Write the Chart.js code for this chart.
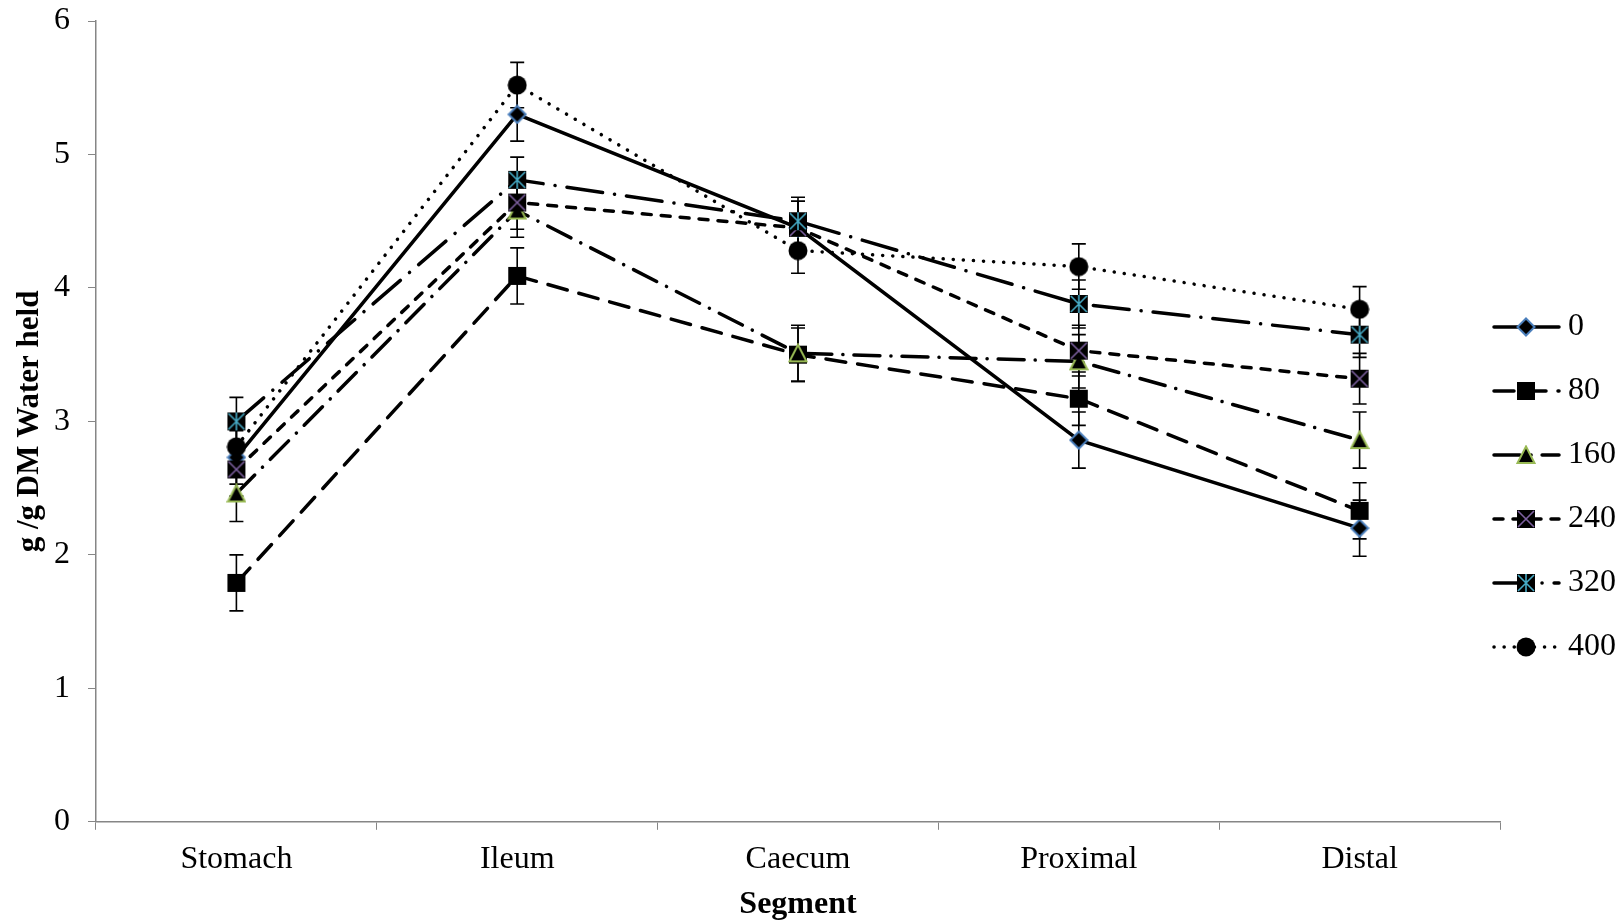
<!DOCTYPE html>
<html>
<head>
<meta charset="utf-8">
<script src="https://cdn.jsdelivr.net/npm/chart.js@4.4.0/dist/chart.umd.min.js"></script>
<style>
  html, body { margin: 0; padding: 0; background: #fff; }
  #wrap { width: 1622px; height: 924px; }
</style>
</head>
<body>
<div id="wrap"><canvas id="myChart" width="1622" height="924"></canvas></div>
<script>
const segments = ['Stomach', 'Ileum', 'Caecum', 'Proximal', 'Distal'];
const seriesNames = ['0', '80', '160', '240', '320', '400'];

const water0 = [2.73, 5.30, 4.45, 2.86, 2.20];
const water80 = [1.79, 4.09, 3.50, 3.17, 2.33];
const water160 = [2.46, 4.58, 3.51, 3.45, 2.86];
const water240 = [2.64, 4.64, 4.45, 3.53, 3.32];
const water320 = [3.00, 4.81, 4.50, 3.88, 3.65];
const water400 = [2.81, 5.52, 4.28, 4.16, 3.84];

const err0 = [0.20, 0.20, 0.20, 0.21, 0.21];
const err80 = [0.21, 0.21, 0.20, 0.20, 0.21];
const err160 = [0.21, 0.20, 0.21, 0.20, 0.21];
const err240 = [0.20, 0.20, 0.20, 0.19, 0.19];
const err320 = [0.18, 0.17, 0.18, 0.18, 0.17];
const err400 = [0.17, 0.17, 0.17, 0.17, 0.17];

const yTicks = [0, 1, 2, 3, 4, 5, 6];

// marker images
function marker(kind) {
    const s = 20;
    const c = document.createElement('canvas');
    c.width = s; c.height = s;
    const g = c.getContext('2d');
    g.fillStyle = '#000';
    if (kind === 'diamond') {
        g.beginPath();
        g.moveTo(s / 2, 1.5); g.lineTo(s - 1.5, s / 2); g.lineTo(s / 2, s - 1.5); g.lineTo(1.5, s / 2);
        g.closePath();
        g.fill();
        g.strokeStyle = '#4a7ebb'; g.lineWidth = 2; g.stroke();
    } else if (kind === 'square') {
        g.fillRect(1, 1, s - 2, s - 2);
    } else if (kind === 'triangle') {
        g.beginPath();
        g.moveTo(s / 2, 1.5); g.lineTo(s - 1.5, s - 2); g.lineTo(1.5, s - 2);
        g.closePath();
        g.fill();
        g.strokeStyle = '#98b954'; g.lineWidth = 2; g.stroke();
    } else if (kind === 'xsquare' || kind === 'star') {
        g.fillRect(1, 1, s - 2, s - 2);
        g.strokeStyle = kind === 'xsquare' ? '#7d60a0' : '#46aac5';
        g.lineWidth = 1.6;
        g.beginPath();
        g.moveTo(2, 2); g.lineTo(s - 2, s - 2);
        g.moveTo(s - 2, 2); g.lineTo(2, s - 2);
        if (kind === 'star') { g.moveTo(s / 2, 1); g.lineTo(s / 2, s - 1); }
        g.stroke();
    } else if (kind === 'circle') {
        g.beginPath();
        g.arc(s / 2, s / 2, s / 2 - 0.5, 0, Math.PI * 2);
        g.fill();
    }
    return c;
}

const values = [water0, water80, water160, water240, water320, water400];
const errors = [err0, err80, err160, err240, err320, err400];
const markers = ['diamond', 'square', 'triangle', 'xsquare', 'star', 'circle'].map(marker);
const dashes = [[], [20, 12], [26, 11, 0.1, 11], [9, 10], [36, 12, 0.1, 12], [0.1, 10]];

const datasets = seriesNames.map((name, i) => ({
    label: name,
    data: values[i],
    errors: errors[i],
    borderColor: '#000',
    backgroundColor: '#000',
    borderWidth: 3.5,
    borderDash: dashes[i],
    borderCapStyle: 'round',
    tension: 0,
    pointStyle: markers[i],
    pointRadius: 10,
    order: 6 - i
}));

// Excel-like error bars
const errorBars = {
    id: 'errorBars',
    beforeDatasetsDraw(chart) {
        const ctx = chart.ctx;
        const y = chart.scales.y;
        ctx.save();
        ctx.strokeStyle = '#000';
        ctx.lineWidth = 1.6;
        chart.data.datasets.forEach((ds, i) => {
            const meta = chart.getDatasetMeta(i);
            meta.data.forEach((pt, j) => {
                const v = ds.data[j], e = ds.errors[j];
                const top = y.getPixelForValue(v + e);
                const bot = y.getPixelForValue(v - e);
                ctx.beginPath();
                ctx.moveTo(pt.x, top); ctx.lineTo(pt.x, bot);
                ctx.moveTo(pt.x - 7, top); ctx.lineTo(pt.x + 7, top);
                ctx.moveTo(pt.x - 7, bot); ctx.lineTo(pt.x + 7, bot);
                ctx.stroke();
            });
        });
        ctx.restore();
    }
};

// legend with line + marker samples
const sideLegend = {
    id: 'sideLegend',
    afterDraw(chart) {
        const ctx = chart.ctx;
        ctx.save();
        chart.data.datasets.forEach((ds, i) => {
            const cy = 327 + i * 64;
            ctx.strokeStyle = '#000';
            ctx.lineWidth = 3.5;
            ctx.lineCap = 'round';
            ctx.setLineDash(ds.borderDash);
            ctx.beginPath();
            ctx.moveTo(1494, cy); ctx.lineTo(1559, cy);
            ctx.stroke();
            ctx.setLineDash([]);
            ctx.drawImage(ds.pointStyle, 1526 - 10, cy - 10);
            ctx.fillStyle = '#000';
            ctx.font = '32px "Liberation Serif"';
            ctx.textBaseline = 'middle';
            ctx.fillText(ds.label, 1568, cy);
        });
        ctx.restore();
    }
};

new Chart(document.getElementById('myChart'), {
    type: 'line',
    data: { labels: segments, datasets: datasets },
    plugins: [errorBars, sideLegend],
    options: {
        responsive: false,
        animation: false,
        layout: { padding: { top: 21, right: 122, left: 0, bottom: 5 } },
        plugins: { legend: { display: false }, tooltip: { enabled: false } },
        scales: {
            x: {
                offset: true,
                grid: { offset: true, drawOnChartArea: false, color: '#868686', tickLength: 8, tickColor: '#868686' },
                border: { color: '#868686', width: 1.5 },
                ticks: { color: '#000', padding: 11, font: { family: 'Liberation Serif', size: 32 } },
                title: {
                    display: true, text: 'Segment', color: '#000', padding: { top: 0, bottom: 0 },
                    font: { family: 'Liberation Serif', size: 32, weight: 'bold', lineHeight: 0.9 }
                }
            },
            y: {
                min: 0, max: 6,
                afterBuildTicks(scale) { scale.ticks = yTicks.map(v => ({ value: v })); },
                afterFit(scale) { scale.width = 96; },
                grid: { drawOnChartArea: false, color: '#868686', tickLength: 8, tickColor: '#868686' },
                border: { color: '#868686', width: 1.5 },
                ticks: { color: '#000', padding: 18, font: { family: 'Liberation Serif', size: 32, lineHeight: 0.1 } },
                title: {
                    display: true, text: 'g /g DM Water held', color: '#000', padding: { top: 11, bottom: 0 },
                    font: { family: 'Liberation Serif', size: 31, weight: 'bold' }
                }
            }
        }
    }
});
</script>
</body>
</html>
